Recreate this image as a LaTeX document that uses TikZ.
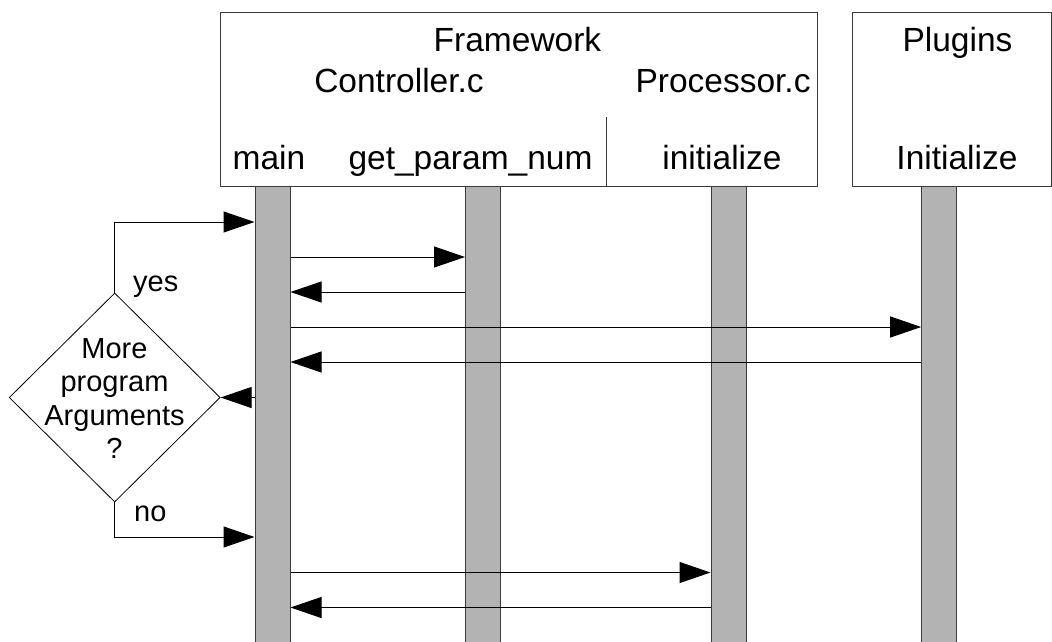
\documentclass[tikz,border=0pt]{standalone}
\usepackage{fontspec}
\setmainfont{Liberation Sans}
\usetikzlibrary{arrows.meta,shapes.geometric,calc}
\definecolor{barfill}{HTML}{B3B3B3}
\definecolor{edgecol}{HTML}{3A3A3A}
\begin{document}
\begin{tikzpicture}[x=1pt,y=-1pt,
  hbox/.style={draw=edgecol,line width=1pt,inner sep=0pt,anchor=north west},
  lifebar/.style={draw=edgecol,fill=barfill,line width=1pt,inner sep=0pt,anchor=north,minimum width=35pt,minimum height=460pt},
  hlabel/.style={font=\fontsize{33.5}{40}\selectfont,inner sep=0pt,anchor=base},
  slabel/.style={font=\fontsize{29}{33.5}\selectfont,inner sep=0pt},
  msg/.style={draw=black,line width=1pt,-{Triangle[length=31pt,width=21pt]}},
  decision/.style={draw=black,line width=0.8pt,shape=diamond,inner sep=0pt,minimum width=211pt,minimum height=209pt}
]
\useasboundingbox (0,0) rectangle (1052,641);

% header boxes
\node[hbox,minimum width=597pt,minimum height=174.5pt] (fw) at (219.5,11.5) {};
\node[hbox,minimum width=199.5pt,minimum height=174.5pt] (pl) at (851.5,11.5) {};
\coordinate (divtop) at (606,117);
\draw[draw=edgecol,line width=1pt] (divtop) -- (divtop |- fw.south);

% header texts
\node[hlabel] (tfw) at (517.5,51) {Framework};
\node[hlabel] (tctl) at (399,92) {Controller.c};
\node[hlabel] (tproc) at (723,92) {Processor.c};
\node[hlabel] (tmain) at (269,169) {main};
\node[hlabel] (tgp) at (470.5,169) {get\_param\_num};
\node[hlabel] (tini) at (722,169) {initialize};
\node[hlabel] (tplg) at (957.5,51) {Plugins};
\node[hlabel] (tIni) at (957,169) {Initialize};

% lifelines
\node[lifebar] (b1) at (272.5,186) {};
\node[lifebar] (b2) at (483,186) {};
\node[lifebar] (b3) at (728.5,186) {};
\node[lifebar] (b4) at (939.2,186) {};

% decision
\node[decision] (dia) at (114.7,397.5) {};
\node[slabel,align=center] (dtxt) at (114.5,398.5) {More\\program\\Arguments\\?};

% message levels
\coordinate (ya) at (0,222);
\coordinate (y1) at (0,257);
\coordinate (y2) at (0,292);
\coordinate (y3) at (0,327);
\coordinate (y4) at (0,362);
\coordinate (y5) at (0,397.5);
\coordinate (yn) at (0,537);
\coordinate (y7) at (0,572.5);
\coordinate (y8) at (0,607.5);

% messages
\draw[msg] (dia.north) |- (b1.west |- ya);
\draw[msg] (b1.east |- y1) -- (b2.west |- y1);
\draw[msg] (b2.west |- y2) -- (b1.east |- y2);
\draw[msg] (b1.east |- y3) -- (b4.west |- y3);
\draw[msg] (b4.west |- y4) -- (b1.east |- y4);
\draw[msg] (b1.west |- y5) -- (dia.east);
\draw[msg] (dia.south) |- (b1.west |- yn);
\draw[msg] (b1.east |- y7) -- (b3.west |- y7);
\draw[msg] (b3.west |- y8) -- (b1.east |- y8);

% branch labels
\node[slabel,anchor=base west] (lyes) at (133,291) {yes};
\node[slabel,anchor=base west] (lno) at (134,521) {no};
\end{tikzpicture}
\end{document}
